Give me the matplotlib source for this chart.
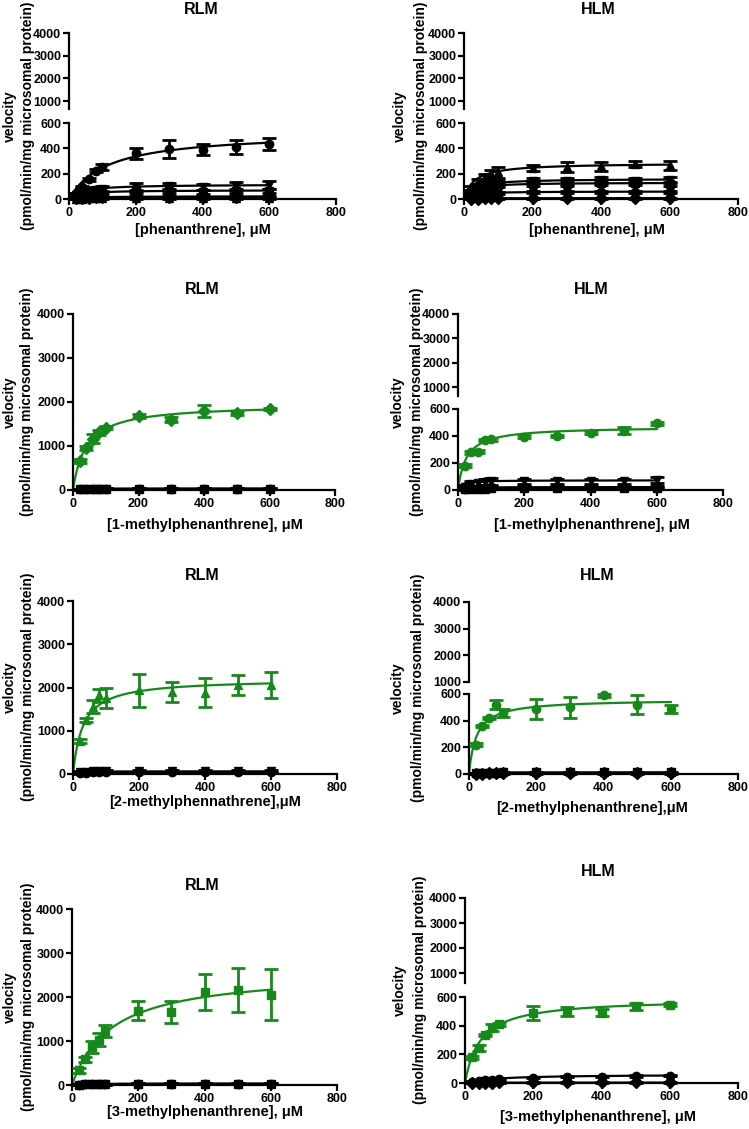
import numpy as np
import matplotlib
matplotlib.use('Agg')
import matplotlib.pyplot as plt

plt.rcParams['font.family'] = ['Liberation Sans', 'DejaVu Sans']
plt.rcParams['font.weight'] = 'bold'

GREEN = '#17891a'

# substrate concentrations (uM)
conc = [20, 40, 60, 80, 100, 200, 300, 400, 500, 600]
x_ticks = [0, 200, 400, 600, 800]

# ---- phenanthrene, RLM ----
p1_circle = [40, 95, 155, 225, 255, 360, 395, 390, 410, 435]
p1_circle_err = [10, 10, 10, 15, 25, 45, 70, 45, 55, 45]
p1_tdown = [35, 55, 65, 72, 78, 95, 100, 95, 105, 110]
p1_tdown_err = [10, 15, 15, 20, 25, 30, 30, 25, 30, 30]
p1_square = [25, 40, 48, 52, 55, 60, 62, 58, 63, 65]
p1_square_err = [8, 10, 10, 12, 12, 15, 15, 15, 15, 15]
p1_diamond = [5, 8, 10, 12, 14, 17, 18, 18, 19, 20]
p1_tup = [2, 3, 4, 4, 5, 5, 6, 5, 6, 6]
p1_fit = {'circle': (530, 115), 'tdown': (115, 35), 'square': (70, 30), 'diamond': (22, 50), 'tup': (7, 30)}

# ---- phenanthrene, HLM ----
p2_tup = [85, 140, 175, 200, 210, 245, 255, 260, 275, 265]
p2_tup_err = [15, 20, 25, 30, 45, 25, 40, 35, 25, 35]
p2_tdown = [50, 85, 105, 120, 125, 145, 140, 150, 145, 150]
p2_tdown_err = [15, 20, 20, 20, 25, 20, 25, 20, 20, 20]
p2_square = [40, 70, 90, 100, 110, 120, 120, 125, 125, 120]
p2_square_err = [10, 15, 15, 15, 15, 15, 15, 15, 15, 15]
p2_circle = [20, 35, 40, 45, 50, 55, 55, 55, 58, 55]
p2_diamond = [2, 3, 4, 5, 5, 6, 6, 6, 6, 6]
p2_fit = {'tup': (285, 30), 'tdown': (160, 25), 'square': (130, 20), 'circle': (60, 20), 'diamond': (7, 20)}

# ---- 1-methylphenanthrene, RLM ----
p3_green = [660, 960, 1170, 1310, 1420, 1680, 1600, 1800, 1750, 1840]
p3_green_err = [40, 40, 100, 60, 40, 50, 50, 130, 40, 30]
p3_black = [15, 20, 22, 25, 25, 28, 28, 30, 30, 30]
p3_fit = {'green': (1950, 40), 'black': (31, 15)}

# ---- 1-methylphenanthrene, HLM ----
p4_green = [180, 280, 285, 370, 375, 395, 400, 425, 440, 495]
p4_green_err = [10, 10, 10, 10, 10, 10, 10, 10, 25, 10]
p4_tdown = [25, 45, 50, 60, 65, 65, 65, 65, 65, 75]
p4_tdown_err = [15, 20, 20, 25, 25, 20, 20, 20, 20, 20]
p4_circle = [10, 15, 15, 18, 20, 20, 20, 20, 22, 22]
p4_square = [5, 8, 10, 10, 12, 12, 12, 12, 14, 14]
p4_fit = {'green': (470, 25), 'tdown': (72, 10), 'circle': (22, 15), 'square': (14, 15)}

# ---- 2-methylphenanthrene, RLM ----
p5_green = [760, 1250, 1560, 1820, 1760, 1940, 1900, 1880, 2060, 2050]
p5_green_err = [40, 40, 150, 150, 230, 380, 230, 330, 230, 300]
p5_tdown = [40, 50, 60, 60, 60, 60, 60, 60, 60, 60]
p5_tdown_err = [20, 25, 60, 40, 40, 30, 30, 30, 30, 40]
p5_circle = [20, 30, 35, 35, 40, 40, 40, 40, 40, 40]
p5_fit = {'green': (2200, 30), 'tdown': (62, 8), 'circle': (42, 10)}

# ---- 2-methylphenanthrene, HLM ----
p6_green = [220, 360, 420, 520, 460, 490, 500, 590, 520, 485]
p6_green_err = [10, 10, 10, 35, 30, 75, 80, 10, 70, 30]
p6_square = [5, 8, 10, 10, 12, 12, 12, 12, 12, 12]
p6_diamond = [2, 3, 4, 4, 4, 5, 5, 5, 5, 5]
p6_fit = {'green': (560, 22), 'square': (13, 10), 'diamond': (5, 10)}

# ---- 3-methylphenanthrene, RLM ----
p7_green = [330, 580, 860, 1030, 1230, 1690, 1660, 2120, 2160, 2050]
p7_green_err = [50, 50, 130, 150, 130, 210, 240, 410, 500, 580]
p7_black = [10, 15, 15, 20, 20, 25, 25, 30, 30, 30]
p7_fit = {'green': (2600, 120), 'black': (32, 40)}

# ---- 3-methylphenanthrene, HLM ----
p8_green = [180, 245, 335, 385, 410, 490, 500, 490, 535, 545]
p8_green_err = [10, 20, 10, 25, 10, 50, 30, 25, 25, 10]
p8_circle = [8, 12, 18, 22, 25, 38, 45, 45, 50, 52]
p8_diamond = [2, 3, 3, 3, 4, 4, 4, 4, 4, 4]
p8_fit = {'green': (590, 45), 'circle': (60, 90), 'diamond': (5, 20)}

W, H = 749, 1129
fig = plt.figure(figsize=(W / 100, H / 100), dpi=100)


def rect(l, t, r, b):
    return [l / W, 1 - b / H, (r - l) / W, (b - t) / H]


def style(ax):
    for s in ['top', 'right']:
        ax.spines[s].set_visible(False)
    for s in ['left', 'bottom']:
        ax.spines[s].set_linewidth(1.6)
    ax.tick_params(width=1.6, length=4, labelsize=9, pad=1.5)
    for t in ax.get_xticklabels() + ax.get_yticklabels():
        t.set_fontweight('bold')


def panel(left, right, px0, px4000, brk=None):
    # brk = (pixel of 600, pixel of 1000, bottom pixel of upper segment)
    if brk is None:
        ax = fig.add_axes(rect(left, px4000, right, px0))
        ax.set_ylim(0, 4000)
        ax.set_yticks([0, 1000, 2000, 3000, 4000])
    else:
        p600, p1000, pbot = brk
        ax = fig.add_axes(rect(left, p600, right, px0))
        ax.set_ylim(0, 600)
        ax.set_yticks([0, 200, 400, 600])
        up = fig.add_axes(rect(left, px4000, right, pbot))
        lo = 1000 - (pbot - p1000) / (p1000 - px4000) * 3000
        up.set_ylim(lo, 4000)
        up.set_yticks([1000, 2000, 3000, 4000])
        up.set_xlim(0, 800)
        up.spines['bottom'].set_visible(False)
        up.set_xticks([])
        style(up)
        up.patch.set_visible(False)
    ax.set_xlim(0, 800)
    ax.set_xticks(x_ticks)
    style(ax)
    ax.patch.set_visible(False)
    return ax


def series(ax, y, marker, color, fit, err=None, line_color=None):
    ax.errorbar(conc, y, yerr=err, fmt=marker, color=color, ms=6,
                elinewidth=2, capsize=5, capthick=2, clip_on=False, zorder=3)
    xs = np.linspace(0, 600, 300)
    vmax, km = fit
    ax.plot(xs, vmax * xs / (km + xs), color=line_color or color, lw=1.6, zorder=2)


def labels(cx, title_y, vel_x, pmol_x, yc, xl_y, xl_x, xlabel, title):
    fig.text(cx / W, 1 - title_y / H, title, ha='center', va='center', fontsize=11.5)
    fig.text(vel_x / W, 1 - yc / H, 'velocity', rotation=90, ha='center', va='center', fontsize=10)
    fig.text(pmol_x / W, 1 - yc / H, '(pmol/min/mg microsomal protein)', rotation=90,
             ha='center', va='center', fontsize=10)
    fig.text(xl_x / W, 1 - xl_y / H, xlabel, ha='center', va='center', fontsize=10.5)


# panel 1
ax = panel(69, 336, 199, 33, (123, 101, 109))
series(ax, p1_tup, '^', 'k', p1_fit['tup'], 3)
series(ax, p1_diamond, 'D', 'k', p1_fit['diamond'], 5)
series(ax, p1_square, 's', 'k', p1_fit['square'], p1_square_err)
series(ax, p1_tdown, 'v', 'k', p1_fit['tdown'], p1_tdown_err)
series(ax, p1_circle, 'o', 'k', p1_fit['circle'], p1_circle_err)
labels(201, 10, 10, 28, 116, 230, 203, '[phenanthrene], \u03bcM', 'RLM')

# panel 2
ax = panel(464, 738, 199, 33, (123, 101, 109))
series(ax, p2_diamond, 'D', 'k', p2_fit['diamond'], 3)
series(ax, p2_circle, 'o', 'k', p2_fit['circle'], 8)
series(ax, p2_square, 's', 'k', p2_fit['square'], p2_square_err)
series(ax, p2_tdown, 'v', 'k', p2_fit['tdown'], p2_tdown_err)
series(ax, p2_tup, '^', 'k', p2_fit['tup'], p2_tup_err)
labels(598, 10, 400, 421, 116, 230, 597, '[phenanthrene], \u03bcM', 'HLM')

# panel 3
ax = panel(73, 335, 490, 314)
series(ax, p3_black, 'o', 'k', p3_fit['black'], 10)
series(ax, p3_black, 's', 'k', p3_fit['black'], 10)
series(ax, p3_green, 'D', GREEN, p3_fit['green'], p3_green_err)
labels(202, 289, 10, 27, 402, 525, 205, '[1-methylphenanthrene], \u03bcM', 'RLM')

# panel 4
ax = panel(458, 723, 490, 314, (409, 387, 396))
series(ax, p4_square, 's', 'k', p4_fit['square'], 5)
series(ax, p4_circle, 'o', 'k', p4_fit['circle'], 8)
series(ax, p4_tdown, 'v', 'k', p4_fit['tdown'], p4_tdown_err)
series(ax, p4_green, 'o', GREEN, p4_fit['green'], p4_green_err)
labels(591, 289, 398, 417, 402, 525, 592, '[1-methylphenanthrene], \u03bcM', 'HLM')

# panel 5
ax = panel(73, 337, 774, 601)
series(ax, p5_circle, 'o', 'k', p5_fit['circle'], 15)
series(ax, p5_tdown, 'v', 'k', p5_fit['tdown'], p5_tdown_err)
series(ax, p5_green, '^', GREEN, p5_fit['green'], p5_green_err)
labels(202, 575, 10, 28, 687, 802, 205, '[2-methylphennathrene],\u03bcM', 'RLM')

# panel 6
ax = panel(469, 738, 774, 602, (694, 682, 682))
series(ax, p6_diamond, 'D', 'k', p6_fit['diamond'], 3)
series(ax, p6_square, 's', 'k', p6_fit['square'], 6)
series(ax, p6_green, 'o', GREEN, p6_fit['green'], p6_green_err)
labels(597, 575, 398, 418, 688, 808, 592, '[2-methylphenanthrene],\u03bcM', 'HLM')

# panel 7
ax = panel(72, 337, 1085, 909)
series(ax, p7_black, 'o', 'k', p7_fit['black'], 10)
series(ax, p7_black, 's', 'k', p7_fit['black'], 10)
series(ax, p7_green, 's', GREEN, p7_fit['green'], p7_green_err)
labels(202, 885, 10, 28, 997, 1112, 205, '[3-methylphenanthrene], \u03bcM', 'RLM')

# panel 8
ax = panel(465, 738, 1083, 898, (997, 973, 983))
series(ax, p8_diamond, 'D', 'k', p8_fit['diamond'], 2, line_color=GREEN)
series(ax, p8_circle, 'o', 'k', p8_fit['circle'], 5)
series(ax, p8_green, 's', GREEN, p8_fit['green'], p8_green_err)
labels(598, 872, 400, 420, 990, 1117, 598, '[3-methylphenanthrene], \u03bcM', 'HLM')

fig.savefig('out.png', dpi=100)
